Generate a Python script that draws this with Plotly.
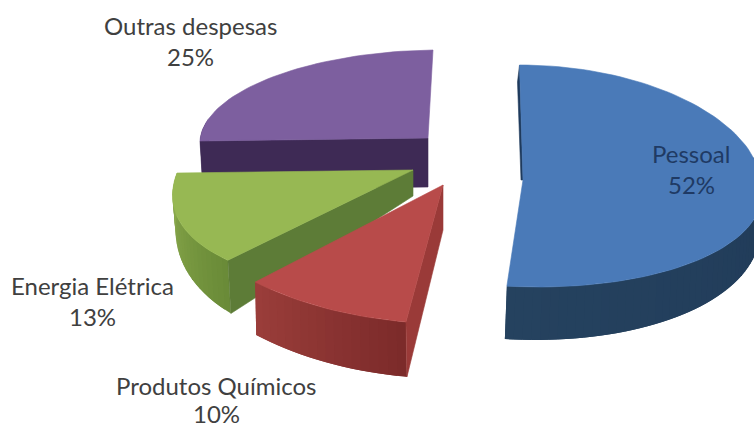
import math
import plotly.graph_objects as go

# Expense shares, in drawing order clockwise from twelve o'clock
categories = ["Pessoal", "Produtos Químicos", "Energia Elétrica", "Outras despesas"]
shares = [52, 10, 13, 25]

# Ellipse and thickness of each exploded wedge on the canvas
GEOMETRY = {
    "Pessoal": dict(ax=523, ay=180, a=238, p=0.05, c=0, bf=-3.5, bn=-15.3, df=-115, dn=-107,
                    h0=35, hv=18, sx=-2, apex=(-2, 0)),
    "Produtos Químicos": dict(ax=443, ay=185, a=271, p=0, c=6, bf=3.1, bn=3.1, df=-138.8, dn=-138.8,
                              h0=47, hv=8, sx=1, apex=(0, 45)),
    "Energia Elétrica": dict(ax=413, ay=170, a=236, p=0.2, c=-3, bf=0, bn=0, df=-121, dn=-121,
                             h0=27, hv=36, sx=3, apex=(0, 26)),
    "Outras despesas": dict(ax=428, ay=138, a=228, p=0, c=-3, bf=5, bn=5, df=-88, dn=-88,
                            h0=49, hv=0, sx=3, apex=(0, 49)),
}
COLORS = {
    "Pessoal": dict(top="#4a7ab8", cut="#1f3a5c", rim=("#25425f", "#1d3553")),
    "Produtos Químicos": dict(top="#b84b4a", cut="#9a3a38", rim=("#9a3d3a", "#7c2b2a")),
    "Energia Elétrica": dict(top="#97b853", cut="#5d7c37", rim=("#8fae4f", "#6a8b38")),
    "Outras despesas": dict(top="#7d5f9f", cut="#3e2a55", rim=("#3e2a55", "#3e2a55")),
}
LABELS = {
    "Pessoal": dict(x=691, y=153, gap=31, color="#1f3a64"),
    "Produtos Químicos": dict(x=216, y=385, gap=28, color="#404040"),
    "Energia Elétrica": dict(x=92, y=285, gap=31, color="#404040"),
    "Outras despesas": dict(x=190, y=25, gap=31, color="#404040"),
}
DRAW_ORDER = ["Outras despesas", "Energia Elétrica", "Produtos Químicos", "Pessoal"]


def rim_point(g, deg):
    u, v = math.sin(math.radians(deg)), math.cos(math.radians(deg))
    b = g["bf"] if v > 0 else g["bn"]
    d = g["df"] if v > 0 else g["dn"]
    return (g["ax"] + g["a"] * (1 - g["p"] * v) * u + b * v, g["ay"] + g["c"] * u + d * v)


def floor_point(g, deg):
    x, y = rim_point(g, deg)
    return x + g["sx"], y + g["h0"] - g["hv"] * math.cos(math.radians(deg))


def mix(c1, c2, t):
    rgb1 = [int(c1[i:i + 2], 16) for i in (1, 3, 5)]
    rgb2 = [int(c2[i:i + 2], 16) for i in (1, 3, 5)]
    return "rgb(%d,%d,%d)" % tuple(round(p + (q - p) * t) for p, q in zip(rgb1, rgb2))


def polygon(points, color, stroke=0.6):
    xs, ys = zip(*points)
    return go.Scatter(x=list(xs) + [xs[0]], y=list(ys) + [ys[0]], mode="lines", fill="toself",
                      fillcolor=color, line=dict(color=color, width=stroke),
                      hoverinfo="skip", showlegend=False)


# Wedge angles follow from the shares
spans = {}
angle = 0.0
for name, share in zip(categories, shares):
    sweep = 360.0 * share / sum(shares)
    spans[name] = (angle, angle + sweep)
    angle += sweep

fig = go.Figure()
for name in DRAW_ORDER:
    g, col = GEOMETRY[name], COLORS[name]
    start, end = spans[name]
    steps = max(12, int((end - start) / 2))
    degs = [start + (end - start) * i / steps for i in range(steps + 1)]
    apex = (g["ax"], g["ay"])
    apex_floor = (g["ax"] + g["apex"][0], g["ay"] + g["apex"][1])

    # Outer wall as overlapping shaded strips; only the arc facing the viewer is drawn
    for i in range(steps):
        d0, d1 = degs[i], degs[min(i + 2, steps)]
        if math.cos(math.radians(d0)) > 0.2:
            continue
        t = 1 - i / (steps - 1)
        fig.add_trace(polygon([rim_point(g, d0), rim_point(g, d1), floor_point(g, d1), floor_point(g, d0)],
                              mix(col["rim"][0], col["rim"][1], t), stroke=0))
    # Cut face along the first radius
    fig.add_trace(polygon([apex, rim_point(g, start), floor_point(g, start), apex_floor], col["cut"]))
    # Top face
    fig.add_trace(polygon([apex] + [rim_point(g, d) for d in degs], col["top"]))

annotations = []
for name, share in zip(categories, shares):
    lab = LABELS[name]
    font = dict(family="Lato", size=24, color=lab["color"])
    for text, dy in ((name, 0), (f"{share}%", lab["gap"])):
        annotations.append(dict(x=lab["x"], y=lab["y"] + dy, text=text, showarrow=False,
                                xanchor="center", yanchor="middle", font=font))

fig.update_layout(
    width=754, height=429, margin=dict(l=0, r=0, t=0, b=0),
    paper_bgcolor="white", plot_bgcolor="white", showlegend=False,
    xaxis=dict(range=[0, 754], visible=False, fixedrange=True),
    yaxis=dict(range=[429, 0], visible=False, fixedrange=True),
    annotations=annotations,
)
fig.write_html("out.html")
